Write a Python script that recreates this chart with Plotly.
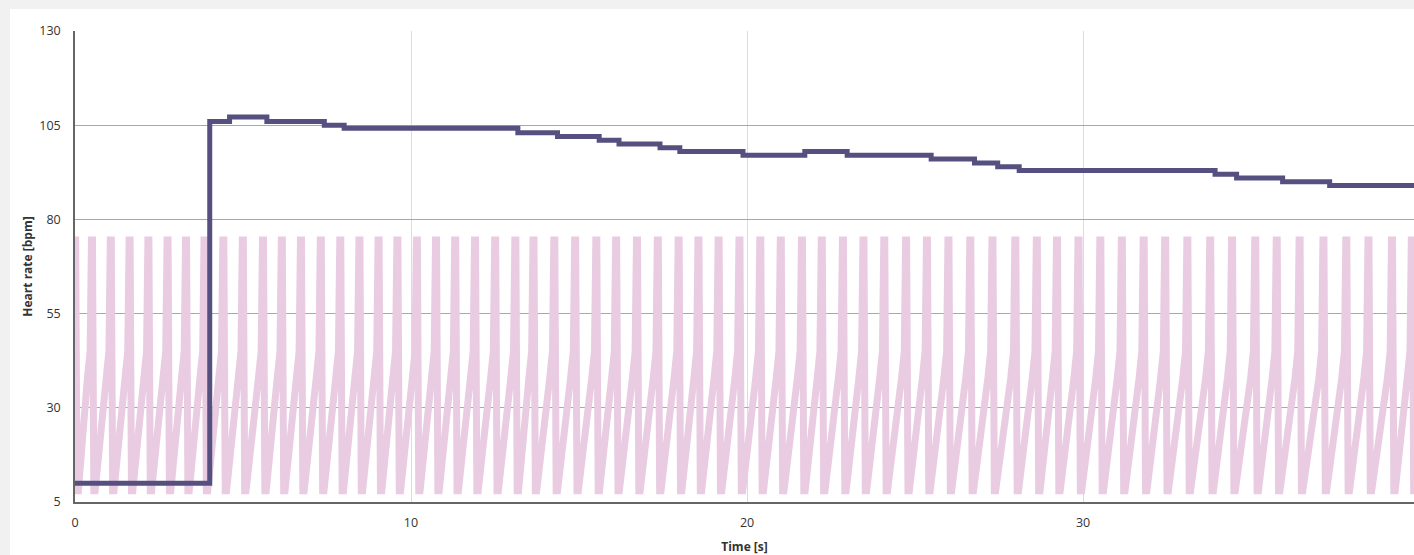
import plotly.graph_objects as go

# ---- data ----
hr_time = [0, 4.01, 4.60, 5.71, 7.42, 8.01, 13.18, 14.36, 15.60, 16.19, 17.41, 18.00,
           19.88, 21.72, 22.98, 25.48, 26.77, 27.46, 28.10, 33.93, 34.57, 35.94, 37.34, 39.85]
hr_bpm = [10, 106, 107.2, 106, 105, 104.2, 103, 102, 101, 100, 99, 98,
          97, 98, 97, 96, 95, 94, 93, 92, 91, 90, 89, 89]

beat_times = [0.00, 0.50, 1.06, 1.62, 2.18, 2.75, 3.30, 3.85, 4.41, 4.99, 5.59, 6.15, 6.72,
              7.31, 7.89, 8.46, 9.03, 9.59, 10.17, 10.74, 11.31, 11.90, 12.50, 13.10, 13.64,
              14.26, 14.88, 15.51, 16.10, 16.72, 17.34, 17.96, 18.55, 19.15, 19.77, 20.39,
              21.00, 21.63, 22.22, 22.85, 23.46, 24.08, 24.73, 25.35, 25.99, 26.64, 27.30,
              27.98, 28.62, 29.22, 29.86, 30.51, 31.15, 31.80, 32.44, 33.10, 33.78, 34.43,
              35.12, 35.76, 36.44, 37.15, 37.83, 38.49, 39.19, 39.78]
wave_peak = 74.5
wave_trough = 8.0
wave_shoulder = [38.0, 42.0, 45.0]

y_ticks = [5, 30, 55, 80, 105, 130]
x_ticks = [0, 10, 20, 30]

# ---- build waveform polyline from the beats ----
wx, wy = [], []
for i, tp in enumerate(beat_times):
    pts = [(tp - 0.01, wave_peak), (tp + 0.02, wave_peak),
           (tp + 0.06, wave_trough), (tp + 0.10, wave_trough)]
    if i + 1 < len(beat_times):
        tn = beat_times[i + 1]
        pts += [(tn - 0.13, wave_shoulder[0]), (tn - 0.09, wave_shoulder[1]),
                (tn - 0.05, wave_shoulder[2])]
    for t, v in pts:
        wx.append(max(t, 0.0))
        wy.append(v)

fig = go.Figure()
fig.add_trace(go.Scatter(x=wx, y=wy, mode="lines",
                         line=dict(color="#e9cce2", width=7), hoverinfo="skip",
                         showlegend=False))
fig.add_trace(go.Scatter(x=hr_time, y=hr_bpm, mode="lines", line_shape="hv",
                         line=dict(color="#55507f", width=5), showlegend=False))

W, H = 1414, 555
ml, mr, mt, mb = 75, 0, 31, 53
pw, ph = W - ml - mr, H - mt - mb
fig.add_shape(type="rect", xref="paper", yref="paper", layer="below",
              x0=(10 - ml) / pw, x1=1.01, y0=-(H - mt - ph) / ph - 0.01,
              y1=(ph + mt - 9) / ph, fillcolor="white", line_width=0)

fig.update_layout(
    width=W, height=H,
    margin=dict(l=ml, r=mr, t=mt, b=mb),
    paper_bgcolor="#f1f1f1", plot_bgcolor="white",
    font=dict(family="Open Sans, Noto Sans, sans-serif", size=12, color="#333333"),
    xaxis=dict(range=[0, 39.85], tickvals=x_ticks, showgrid=True,
               gridcolor="#e6d6df", gridwidth=1, zeroline=False,
               showline=True, linecolor="#666666", linewidth=1.5,
               ticks="", ticklabelstandoff=8, tickfont=dict(size=12.5),
               title=dict(text="<b>Time [s]</b>", font=dict(size=12), standoff=13)),
    yaxis=dict(range=[5, 130], tickvals=y_ticks, showgrid=True,
               gridcolor="#7db9c0", gridwidth=1, zeroline=False,
               showline=True, linecolor="#666666", linewidth=1.5,
               ticks="", ticklabelstandoff=10, tickfont=dict(size=12.5),
               title=dict(text="<b>Heart rate [bpm]</b>", font=dict(size=12), standoff=4)),
)

fig.write_html("out.html", config={"displayModeBar": False},
               post_script="document.body.style.margin='0';"
                           "document.body.style.overflow='hidden';"
                           "document.body.style.background='#f1f1f1';")
